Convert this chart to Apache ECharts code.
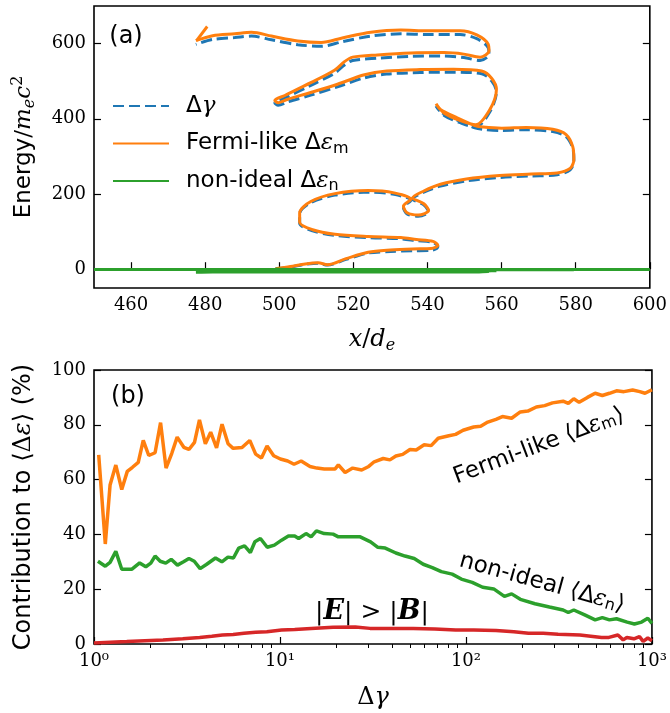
<!DOCTYPE html>
<html><head><meta charset="utf-8">
<script src="https://cdn.jsdelivr.net/npm/echarts@6/dist/echarts.min.js"></script>
<style>html,body{margin:0;padding:0;background:#fff}#c{width:670px;height:713px}</style>
</head><body><div id="c"></div>
<script>
// ---------- Panel (a): trajectory, x/d_e vs energy ----------
const pathX = [499,503,507,510.5,513,518,524,530,536,541,542.8,541.5,537,532.8,524,515,509,505.5,505.5,508.5,515,524,531,535.5,533.5,534.5,537.5,540.3,539,536,539,543.5,550.5,559.5,568,575,578.5,579.5,579.2,577.4,573.8,566.7,560,555,552.8,547.5,543.5,542.3,544.5,549,553,556.8,558.6,557.3,554.6,547,538,529,523,515.7,508.5,502.3,499.7,498.8,501.5,508.5,514.9,517.6,519.8,526.5,535.5,544.5,549.8,554.2,556.6,556.4,553.3,548.8,540,532.8,524.7,517,511.3,505,497.9,492.5,488,482,477.5];
const fermiE = [1,7,14,17,12,28,45,51,54,55,63,74,79,84,87,93,105,125,150,180,201,209,203,186,168,150,144,156,174,190,208,226,240,249,253,256,268,292,326,358,372,377,375,378,382,405,425,440,415,395,384,424,478,508,527,532,531,527,517,492,470,452,443,449,462,496,529,552,564,570,575,576,572,564,580,598,623,634,634,636,630,615,603,607,620,630,626,621,608];
const gammaE = [1,6,13,16,11,26,43,47,49,50,60,71,76,81,84,90,102,122,147,177,197,205,199,183,165,147,141,153,171,187,205,221,235,244,248,251,264,288,322,353,366,371,369,372,376,399,419,434,409,389,378,418,471,501,520,524,523,519,509,485,463,445,436,442,455,489,521,543,555,561,566,567,563,555,571,589,613,624,624,626,620,605,593,597,610,620,616,611,598];
const nonIdealE = [0,-1,-1,-1,-1,-1,-1,-1,-1,-1,-1,-1,-1,-1,-1,-1,-1,-1,-1,-1,-1,-1,-1,-1,-1,-1,-1,-1,-1,-1,-1,-1,-1,-1,-1,-1,-1,-1,-1,-1,-1,-1,-1,-1,-2,-3,-3,-3,-3,-3,-3,-4,-4,-4,-5,-5,-5,-5,-5,-5,-5,-5,-5,-5,-5,-6,-6,-6,-6,-6,-6,-6,-6,-6,-6,-6,-7,-7,-7,-7,-7,-7,-7,-7,-7,-7,-7,-7,-8];
const xTicksA = [460,480,500,520,540,560,580,600];
const yTicksA = [0,200,400,600];

// ---------- Panel (b): contributions vs Δγ ----------
const fermiG = [1.06,1.15,1.22,1.31,1.41,1.51,1.61,1.73,1.84,1.97,2.13,2.28,2.44,2.62,2.8,3.04,3.24,3.47,3.69,3.97,4.24,4.56,4.88,5.26,5.6,6.25,6.88,7.4,7.95,8.52,9.25,10.05,11.0,11.9,13.0,14.5,15.8,17.3,19.8,20.6,22.4,24.6,27.5,30,32.1,35.9,39,42,45.7,50,54,59.6,65,70.9,80.9,88,96.5,110,120,131,145,157,176,196,215,239,265,292,333,355,380,406,450,495,541,591,645,707,787,860,918,1000];
const fermiP = [69,36.5,58,65.3,56.4,63,64.5,66.3,74.3,68.8,69.8,80.8,64.2,69.6,75.5,71.8,71,73.6,81.8,73.1,77.3,71.6,80.2,73.1,71.4,71.7,74.3,69.3,67.9,72.3,68.7,67.5,66.8,65.6,66.8,64.8,64.2,63.9,63.9,65.4,62.6,64.2,63.5,64.8,66.5,67.7,67.2,68.6,69.2,71,70.8,72.7,72.4,75.1,76,76.5,78,79.2,79.5,81,82,83,82.4,84.7,85,86.5,87,88,88.6,87.8,89.5,88.2,90,91.5,90.7,91.5,92.4,92.1,92.7,92.1,91.5,92.8];
const nonIdealG = [1.05,1.15,1.22,1.31,1.41,1.6,1.76,1.9,2.02,2.13,2.27,2.43,2.6,2.81,3.03,3.24,3.46,3.72,4.02,4.5,4.87,5.25,5.62,6.0,6.45,6.93,7.33,7.85,8.54,9.33,10.2,11.1,12.0,12.6,13.8,14.7,15.7,17.3,19.3,20.6,23.6,27,30.7,33.6,36.8,42,47,52.7,58.9,65.9,73.7,84.3,94.4,108,123,141,161,176,196,235,281,333,355,380,435,495,541,591,645,736,805,880,950,1000];
const nonIdealP = [30.2,28.4,29.8,33.8,27.3,27.3,29.6,28.2,29.5,32.1,30.2,29.5,30.9,28.8,30.0,31.2,30.2,27.5,29.0,31.4,30.0,31.7,31.4,35,35.8,33.4,37.3,38.5,35.3,36.1,37.9,39.4,39.4,38.5,40.3,39.1,41.3,40.3,40.1,39.1,39.1,39.1,37.3,35.3,35,33.2,32.1,31.2,29.1,27.9,26.4,25.5,23.7,22.5,20.7,20.1,17.4,18.3,16.3,14.7,13.5,12.4,11.5,12.4,10.6,8.8,9.6,8.8,9.2,8.0,7.3,8.0,9.4,7.5];
const ebG = [1.0,1.5,2.35,3.0,3.7,4.3,4.9,5.6,6.4,7.4,8.5,10.2,12,14.7,19.3,25.4,30.5,39.8,52,68,88,110,145,181,217,260,313,410,536,587,656,700,733,800,857,897,950,1000];
const ebP = [0.4,0.9,1.5,1.9,2.4,2.8,3.3,3.5,3.9,4.3,4.5,5.1,5.3,5.7,6.1,6.2,5.7,5.7,5.7,5.5,5.1,5.1,4.9,4.5,3.9,3.9,3.6,3.3,2.4,2.4,3.3,1.5,2.4,1.9,2.7,0.95,2.2,1.2];
const xMajorB = [1,10,100,1000];
const xMajorLabels = ['10\u2070','10\u00b9','10\u00b2','10\u00b3'];
const xMinorB = [2,3,4,5,6,7,8,9,20,30,40,50,60,70,80,90,200,300,400,500,600,700,800,900];

const BLUE='#1f77b4', ORANGE='#ff7f0e', GREEN='#2ca02c', RED='#d62728';
const SERIF='DejaVu Serif', SANS='DejaVu Sans';
const zip=(a,b)=>a.map((v,i)=>[v,b[i]]);
const last = pathX.length-1;

function rich(sz){
  return {
    s:{fontFamily:SANS,fontSize:sz,color:'#000'},
    n:{fontFamily:SERIF,fontSize:sz,color:'#000'},
    ns:{fontFamily:SANS,fontSize:sz,color:'#000'},
    i:{fontFamily:SERIF,fontStyle:'italic',fontSize:sz,color:'#000'},
    b:{fontFamily:SERIF,fontStyle:'italic',fontWeight:'bold',fontSize:sz+2,color:'#000'},
    sub:{fontFamily:SANS,fontSize:Math.round(sz*0.68),color:'#000',verticalAlign:'bottom',lineHeight:Math.round(sz*0.68)},
    subi:{fontFamily:SERIF,fontStyle:'italic',fontSize:Math.round(sz*0.68),color:'#000',verticalAlign:'bottom',lineHeight:Math.round(sz*0.68)},
    sup:{fontFamily:SERIF,fontSize:Math.round(sz*0.68),color:'#000',verticalAlign:'top',lineHeight:Math.round(sz*0.68)}
  };
}
const legendLabels = {
  dg:'{ns|\u0394}{i|\u03b3}',
  fm:'{s|Fermi-like }{ns|\u0394}{i|\u03b5}{sub|m}',
  ni:'{s|non-ideal }{ns|\u0394}{i|\u03b5}{sub|n}'
};

const tickStyle = {show:true,inside:true,length:7,lineStyle:{color:'#000',width:1.2}};
const labelStyle = {color:'#000',fontFamily:SERIF,fontSize:18,margin:8};

const option = {
  animation:false,
  backgroundColor:'#fff',
  grid:[
    {left:94,top:6,width:560,height:282,show:true,borderColor:'#000',borderWidth:1.6,backgroundColor:'transparent'},
    {left:94,top:370,width:560,height:279,show:true,borderColor:'#000',borderWidth:1.6,backgroundColor:'transparent'}
  ],
  xAxis:[
    {type:'value',gridIndex:0,min:450,max:600,axisLine:{show:false},splitLine:{show:false},
     axisTick:Object.assign({},tickStyle,{customValues:xTicksA}),
     axisLabel:Object.assign({},labelStyle,{customValues:xTicksA}),
     name:'{i|x}{n|/}{i|d}{subi|e}',nameLocation:'middle',nameGap:38,
     nameTextStyle:{rich:rich(24),lineHeight:28}},
    {type:'log',gridIndex:1,logBase:10,min:1,max:1000,axisLine:{show:false},splitLine:{show:false},
     axisTick:Object.assign({},tickStyle,{customValues:xMajorB}),
     axisLabel:Object.assign({},labelStyle,{customValues:xMajorB,showMinLabel:true,showMaxLabel:true,
       formatter:v=>xMajorLabels[Math.round(Math.log10(v))]}),
     name:'{n|\u0394}{i|\u03b3}',nameLocation:'middle',nameGap:40,
     nameTextStyle:{rich:rich(24),lineHeight:28}},
    {type:'log',gridIndex:1,logBase:10,min:1,max:1000,axisLine:{show:false},splitLine:{show:false},
     axisTick:{show:true,inside:true,length:4,lineStyle:{color:'#000',width:1},customValues:xMinorB},
     axisLabel:{show:false}}
  ],
  yAxis:[
    {type:'value',gridIndex:0,min:-50,max:700,axisLine:{show:false},splitLine:{show:false},
     axisTick:Object.assign({},tickStyle,{customValues:yTicksA}),
     axisLabel:Object.assign({},labelStyle,{customValues:yTicksA}),
     name:'{s|Energy}{n|/}{i|m}{subi|e}{i|c}{sup|2}',nameLocation:'middle',nameGap:56,nameRotate:90,
     nameTextStyle:{rich:rich(23),lineHeight:28}},
    {type:'value',gridIndex:0,position:'right',min:-50,max:700,axisLine:{show:false},splitLine:{show:false},
     axisTick:Object.assign({},tickStyle,{customValues:yTicksA}),axisLabel:{show:false}},
    {type:'value',gridIndex:1,min:0,max:100,interval:20,axisLine:{show:false},splitLine:{show:false},
     axisTick:tickStyle,axisLabel:labelStyle,
     name:'{s|Contribution to }{n|\u27e8\u0394}{i|\u03b5}{n|\u27e9}{s| (%)}',nameLocation:'middle',nameGap:56,nameRotate:90,
     nameTextStyle:{rich:rich(24),lineHeight:28}},
    {type:'value',gridIndex:1,position:'right',min:0,max:100,interval:20,axisLine:{show:false},splitLine:{show:false},
     axisTick:tickStyle,axisLabel:{show:false}}
  ],
  legend:{
    left:107,top:88,orient:'vertical',itemWidth:56,itemHeight:14,itemGap:11.5,
    data:['dg','fm','ni'],
    itemStyle:{opacity:0},
    formatter:n=>legendLabels[n],
    textStyle:{fontSize:23,lineHeight:26,padding:[0,0,0,12],rich:rich(23)}
  },
  series:[
    {name:'dg',type:'line',xAxisIndex:0,yAxisIndex:0,data:zip(pathX,gammaE),symbol:'none',smooth:0.3,
     lineStyle:{color:BLUE,width:3,type:[11,5]},itemStyle:{color:BLUE},z:2},
    {name:'fm',type:'line',xAxisIndex:0,yAxisIndex:0,data:zip(pathX,fermiE),symbol:'none',smooth:0.3,
     lineStyle:{color:ORANGE,width:3},itemStyle:{color:ORANGE},z:3,
     markPoint:{silent:true,symbol:'path://M0,14 L11,0 L13.4,1.8 L2.4,15.8 Z',symbolSize:[13,16],symbolOffset:[6,-7],
       itemStyle:{color:ORANGE},label:{show:false},
       data:[{coord:[pathX[last],fermiE[last]]}]}},
    {name:'ni',type:'line',xAxisIndex:0,yAxisIndex:0,data:zip(pathX,nonIdealE),symbol:'none',smooth:0.3,
     lineStyle:{color:GREEN,width:3.2},itemStyle:{color:GREEN},z:4,
     markLine:{silent:true,symbol:['none','none'],label:{show:false},lineStyle:{color:GREEN,width:3,type:'solid'},data:[{yAxis:0}]}},
    {name:'fermiB',type:'line',xAxisIndex:1,yAxisIndex:2,data:zip(fermiG,fermiP),symbol:'none',
     lineStyle:{color:ORANGE,width:3.5},itemStyle:{color:ORANGE}},
    {name:'niB',type:'line',xAxisIndex:1,yAxisIndex:2,data:zip(nonIdealG,nonIdealP),symbol:'none',
     lineStyle:{color:GREEN,width:3.5},itemStyle:{color:GREEN}},
    {name:'ebB',type:'line',xAxisIndex:1,yAxisIndex:2,data:zip(ebG,ebP),symbol:'none',
     lineStyle:{color:RED,width:3.5},itemStyle:{color:RED}}
  ],
  graphic:[
    {type:'text',x:126,y:37,style:{text:'(a)',font:'24px "DejaVu Sans"',fill:'#000',align:'center',verticalAlign:'middle'}},
    {type:'text',x:128,y:397,style:{text:'(b)',font:'24px "DejaVu Sans"',fill:'#000',align:'center',verticalAlign:'middle'}},
    {type:'text',x:539,y:446,rotation:0.36,style:{text:'{s|Fermi-like }{n|\u27e8}{ns|\u0394}{i|\u03b5}{sub|m}{n|\u27e9}',rich:rich(23),align:'center',verticalAlign:'middle'}},
    {type:'text',x:542,y:583,rotation:-0.27,style:{text:'{s|non-ideal }{n|\u27e8}{ns|\u0394}{i|\u03b5}{sub|n}{n|\u27e9}',rich:rich(23),align:'center',verticalAlign:'middle'}},
    {type:'text',x:372,y:612,style:{text:'{n||}{b|E}{n|| > |}{b|B}{n||}',rich:rich(25),align:'center',verticalAlign:'middle'}}
  ]
};
const chart = echarts.init(document.getElementById('c'),null,{renderer:'canvas'});
chart.setOption(option);
</script></body></html>
